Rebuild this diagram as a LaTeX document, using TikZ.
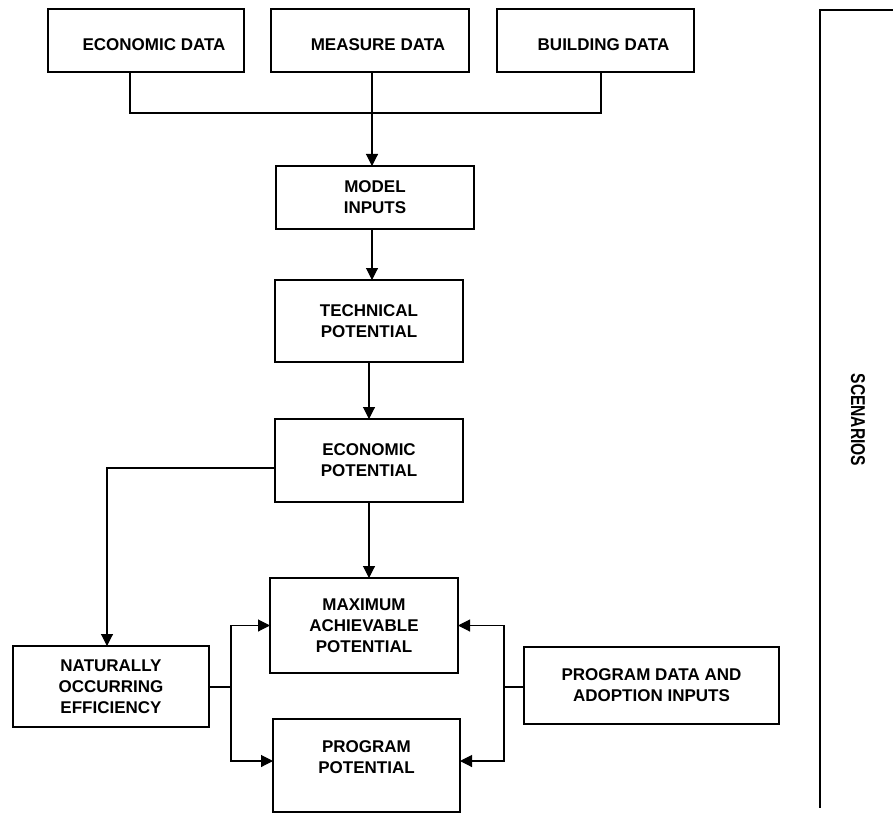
\documentclass[tikz,border=0pt]{standalone}
\usepackage{fontspec}
\setmainfont{Liberation Sans}
\usepackage{graphicx}
\usetikzlibrary{arrows.meta}
\begin{document}
\begin{tikzpicture}[x=1pt,y=-1pt,
  box/.style={draw, line width=1.6pt, inner sep=0pt, outer sep=0pt, align=center,
    font=\fontsize{17}{21}\selectfont\bfseries},
  conn/.style={line width=1.1pt},
  bus/.style={line width=1.6pt},
  arr/.style={conn, -{Triangle[length=12pt,width=12pt]}}]
\useasboundingbox (0,0) rectangle (893,813);
% top row
\node[box, minimum width=196pt, minimum height=63pt] (ed) at (146,40.5)
  {\hspace*{16pt}\raisebox{-4pt}[\height][\depth]{ECONOMIC DATA}};
\node[box, minimum width=198pt, minimum height=63pt] (md) at (370,40.5)
  {\hspace*{16pt}\raisebox{-4pt}[\height][\depth]{MEASURE DATA}};
\node[box, minimum width=197pt, minimum height=63pt] (bd) at (595.5,40.5)
  {\hspace*{16pt}\raisebox{-4pt}[\height][\depth]{BUILDING DATA}};
% column
\node[box, minimum width=198pt, minimum height=63pt] (mi) at (375,197.5) {MODEL\\INPUTS};
\node[box, minimum width=188pt, minimum height=82pt] (tp) at (369,321) {TECHNICAL\\POTENTIAL};
\node[box, minimum width=188pt, minimum height=83pt] (ep) at (369,460.5) {ECONOMIC\\POTENTIAL};
\node[box, minimum width=188pt, minimum height=95pt] (mx) at (364,625.5) {MAXIMUM\\ACHIEVABLE\\POTENTIAL};
\node[box, minimum width=187pt, minimum height=93pt] (pp) at (366.5,765.5)
  {\raisebox{7pt}[\height][\depth]{\begin{tabular}{@{}c@{}}PROGRAM\\POTENTIAL\end{tabular}}};
\node[box, minimum width=196pt, minimum height=81pt] (ne) at (111,686.5) {NATURALLY\\OCCURRING\\EFFICIENCY};
\node[box, minimum width=255pt, minimum height=77pt] (pd) at (651.5,685.5) {PROGRAM DATA AND\\ADOPTION INPUTS};
% scenarios bracket
\node[font=\fontsize{20}{21}\selectfont\bfseries, rotate=-90, inner sep=0pt] (sc) at (858,420)
  {\scalebox{0.78}[1]{SCENARIOS}};
\coordinate (s1) at (893,10);
\coordinate (s2) at (820,10);
\coordinate (s3) at (820,808);
\draw[bus] (s1) -- (s2) -- (s3);
% bus from data boxes
\coordinate (bl) at (130,113);
\coordinate (br) at (601,113);
\draw[bus] ([xshift=-16pt]ed.south) -- (bl) -- (br) -- ([xshift=5.5pt]bd.south);
\draw[arr] ([xshift=2pt]md.south) -- ([xshift=2pt]md.south |- mi.north);
% vertical chain
\draw[arr] ([xshift=-3pt]mi.south) -- ([xshift=-3pt]mi.south |- tp.north);
\draw[arr] (tp.south) -- (ep.north);
\draw[arr] (ep.south) -- (ep.south |- mx.north);
% economic potential to naturally occurring
\draw[arr] ([yshift=-7.5pt]ep.west) -| ([xshift=-4pt]ne.north);
% naturally occurring to max / program
\coordinate (lj) at (231,687);
\draw[conn] (ne.east |- lj) -- (lj);
\draw[arr] (lj) |- (mx.west);
\draw[arr] (lj) |- ([yshift=4.5pt]pp.west);
% program data to max / program
\coordinate (rj) at (504,687);
\draw[conn] (pd.west |- rj) -- (rj);
\draw[arr] (rj) |- (mx.east);
\draw[arr] (rj) |- ([yshift=4.5pt]pp.east);
\end{tikzpicture}
\end{document}
